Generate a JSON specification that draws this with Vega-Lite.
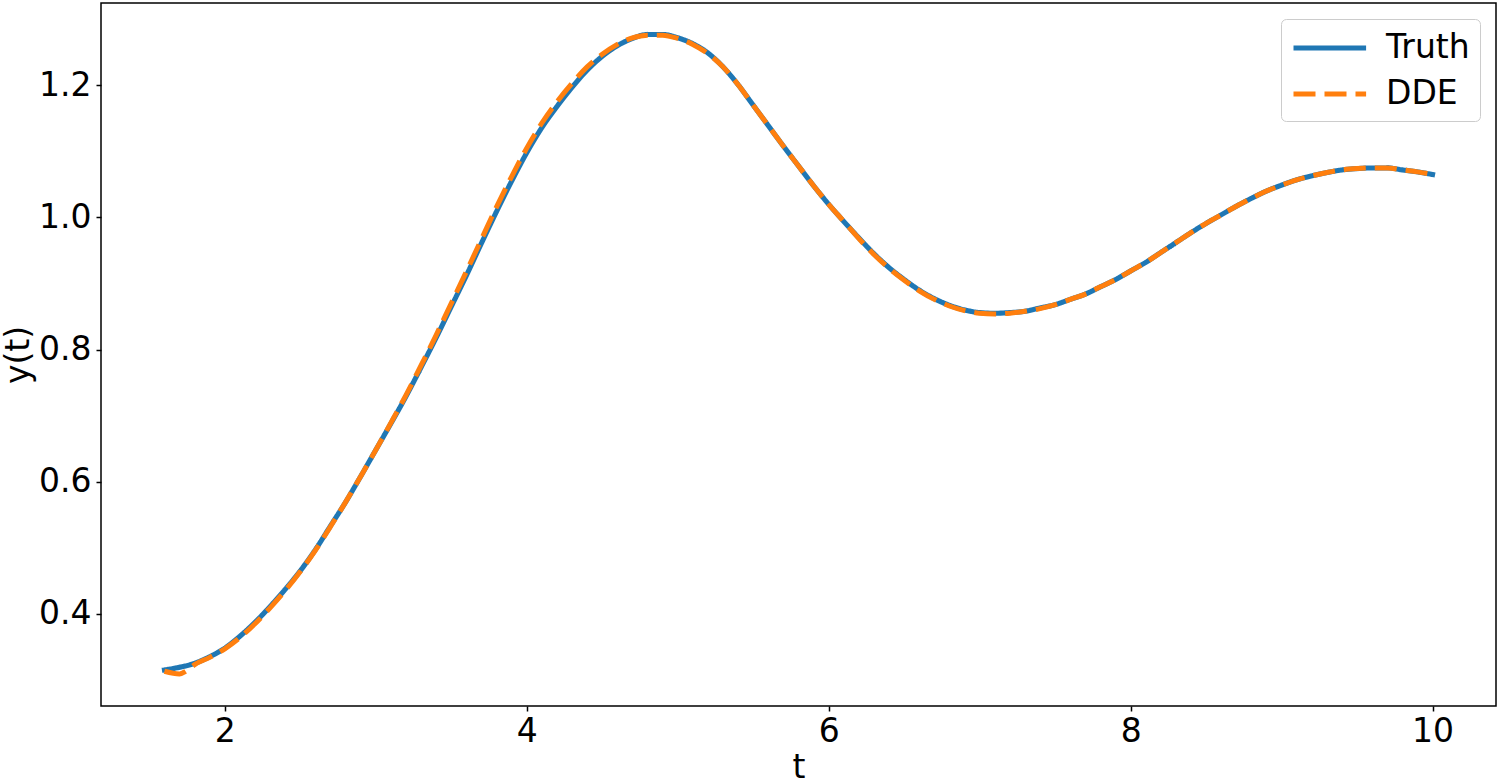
{
  "$schema": "https://vega.github.io/schema/vega-lite/v6.json",
  "width": 1395,
  "height": 703,
  "autosize": {"type": "none"},
  "padding": {"left": 101, "top": 3, "right": 4, "bottom": 74},
  "datasets": {
    "truth": [
      {"t": 1.6, "y": 0.315}, {"t": 1.7, "y": 0.319}, {"t": 1.8, "y": 0.325}, {"t": 1.9, "y": 0.335},
      {"t": 2.0, "y": 0.348}, {"t": 2.1, "y": 0.366}, {"t": 2.2, "y": 0.387}, {"t": 2.3, "y": 0.411},
      {"t": 2.4, "y": 0.437}, {"t": 2.5, "y": 0.465}, {"t": 2.6, "y": 0.497}, {"t": 2.7, "y": 0.533},
      {"t": 2.8, "y": 0.569}, {"t": 2.9, "y": 0.608}, {"t": 3.0, "y": 0.648}, {"t": 3.1, "y": 0.688},
      {"t": 3.2, "y": 0.729}, {"t": 3.3, "y": 0.773}, {"t": 3.4, "y": 0.818}, {"t": 3.5, "y": 0.865},
      {"t": 3.6, "y": 0.912}, {"t": 3.7, "y": 0.961}, {"t": 3.8, "y": 1.009}, {"t": 3.9, "y": 1.055},
      {"t": 4.0, "y": 1.098}, {"t": 4.1, "y": 1.136}, {"t": 4.2, "y": 1.168}, {"t": 4.3, "y": 1.197},
      {"t": 4.4, "y": 1.223}, {"t": 4.5, "y": 1.244}, {"t": 4.6, "y": 1.260}, {"t": 4.7, "y": 1.271},
      {"t": 4.8, "y": 1.277}, {"t": 4.9, "y": 1.277}, {"t": 5.0, "y": 1.272}, {"t": 5.1, "y": 1.263},
      {"t": 5.2, "y": 1.249}, {"t": 5.3, "y": 1.228}, {"t": 5.4, "y": 1.201}, {"t": 5.5, "y": 1.170},
      {"t": 5.6, "y": 1.139}, {"t": 5.7, "y": 1.108}, {"t": 5.8, "y": 1.078}, {"t": 5.9, "y": 1.048},
      {"t": 6.0, "y": 1.020}, {"t": 6.1, "y": 0.994}, {"t": 6.2, "y": 0.969}, {"t": 6.3, "y": 0.945},
      {"t": 6.4, "y": 0.924}, {"t": 6.5, "y": 0.906}, {"t": 6.6, "y": 0.890}, {"t": 6.7, "y": 0.877},
      {"t": 6.8, "y": 0.867}, {"t": 6.9, "y": 0.860}, {"t": 7.0, "y": 0.856}, {"t": 7.1, "y": 0.855},
      {"t": 7.2, "y": 0.856}, {"t": 7.3, "y": 0.858}, {"t": 7.4, "y": 0.863}, {"t": 7.5, "y": 0.868},
      {"t": 7.6, "y": 0.876}, {"t": 7.7, "y": 0.884}, {"t": 7.8, "y": 0.895}, {"t": 7.9, "y": 0.906},
      {"t": 8.0, "y": 0.919}, {"t": 8.1, "y": 0.932}, {"t": 8.2, "y": 0.947}, {"t": 8.3, "y": 0.962},
      {"t": 8.4, "y": 0.977}, {"t": 8.5, "y": 0.991}, {"t": 8.6, "y": 1.004}, {"t": 8.7, "y": 1.017},
      {"t": 8.8, "y": 1.029}, {"t": 8.9, "y": 1.040}, {"t": 9.0, "y": 1.049}, {"t": 9.1, "y": 1.057},
      {"t": 9.2, "y": 1.063}, {"t": 9.3, "y": 1.068}, {"t": 9.4, "y": 1.072}, {"t": 9.5, "y": 1.074},
      {"t": 9.6, "y": 1.075}, {"t": 9.7, "y": 1.075}, {"t": 9.8, "y": 1.072}, {"t": 9.9, "y": 1.069},
      {"t": 10.0, "y": 1.065}
    ],
    "dde": [
      {"t": 1.6, "y": 0.313}, {"t": 1.7, "y": 0.309}, {"t": 1.75, "y": 0.314}, {"t": 1.8, "y": 0.323},
      {"t": 1.9, "y": 0.334}, {"t": 2.0, "y": 0.347}, {"t": 2.1, "y": 0.364}, {"t": 2.2, "y": 0.385},
      {"t": 2.3, "y": 0.409}, {"t": 2.4, "y": 0.435}, {"t": 2.5, "y": 0.464}, {"t": 2.6, "y": 0.496},
      {"t": 2.7, "y": 0.532}, {"t": 2.8, "y": 0.569}, {"t": 2.9, "y": 0.608}, {"t": 3.0, "y": 0.648},
      {"t": 3.1, "y": 0.689}, {"t": 3.2, "y": 0.731}, {"t": 3.3, "y": 0.776}, {"t": 3.4, "y": 0.822},
      {"t": 3.5, "y": 0.870}, {"t": 3.6, "y": 0.918}, {"t": 3.7, "y": 0.967}, {"t": 3.8, "y": 1.016},
      {"t": 3.9, "y": 1.062}, {"t": 4.0, "y": 1.105}, {"t": 4.1, "y": 1.143}, {"t": 4.2, "y": 1.175},
      {"t": 4.3, "y": 1.203}, {"t": 4.4, "y": 1.228}, {"t": 4.5, "y": 1.247}, {"t": 4.6, "y": 1.262},
      {"t": 4.7, "y": 1.272}, {"t": 4.8, "y": 1.276}, {"t": 4.9, "y": 1.276}, {"t": 5.0, "y": 1.271},
      {"t": 5.1, "y": 1.262}, {"t": 5.2, "y": 1.248}, {"t": 5.3, "y": 1.228}, {"t": 5.4, "y": 1.201},
      {"t": 5.5, "y": 1.170}, {"t": 5.6, "y": 1.139}, {"t": 5.7, "y": 1.108}, {"t": 5.8, "y": 1.078},
      {"t": 5.9, "y": 1.048}, {"t": 6.0, "y": 1.020}, {"t": 6.1, "y": 0.994}, {"t": 6.2, "y": 0.968},
      {"t": 6.3, "y": 0.944}, {"t": 6.4, "y": 0.923}, {"t": 6.5, "y": 0.905}, {"t": 6.6, "y": 0.889},
      {"t": 6.7, "y": 0.876}, {"t": 6.8, "y": 0.866}, {"t": 6.9, "y": 0.859}, {"t": 7.0, "y": 0.855},
      {"t": 7.1, "y": 0.854}, {"t": 7.2, "y": 0.855}, {"t": 7.3, "y": 0.858}, {"t": 7.4, "y": 0.862},
      {"t": 7.5, "y": 0.868}, {"t": 7.6, "y": 0.876}, {"t": 7.7, "y": 0.884}, {"t": 7.8, "y": 0.895},
      {"t": 7.9, "y": 0.906}, {"t": 8.0, "y": 0.919}, {"t": 8.1, "y": 0.932}, {"t": 8.2, "y": 0.947},
      {"t": 8.3, "y": 0.962}, {"t": 8.4, "y": 0.977}, {"t": 8.5, "y": 0.991}, {"t": 8.6, "y": 1.004},
      {"t": 8.7, "y": 1.017}, {"t": 8.8, "y": 1.029}, {"t": 8.9, "y": 1.040}, {"t": 9.0, "y": 1.049},
      {"t": 9.1, "y": 1.057}, {"t": 9.2, "y": 1.063}, {"t": 9.3, "y": 1.068}, {"t": 9.4, "y": 1.072},
      {"t": 9.5, "y": 1.074}, {"t": 9.6, "y": 1.075}, {"t": 9.7, "y": 1.075}, {"t": 9.8, "y": 1.072},
      {"t": 9.9, "y": 1.069}, {"t": 10.0, "y": 1.065}
    ]
  },
  "encoding": {
    "x": {
      "field": "t", "type": "quantitative",
      "scale": {"domain": [1.18, 10.42], "nice": false, "zero": false},
      "axis": {"title": "t", "values": [2, 4, 6, 8, 10], "format": "d", "labelPadding": 4, "titlePadding": 3}
    },
    "y": {
      "field": "y", "type": "quantitative",
      "scale": {"domain": [0.2604, 1.3247], "nice": false, "zero": false},
      "axis": {"title": "y(t)", "values": [0.4, 0.6, 0.8, 1.0, 1.2], "format": ".1f", "labelPadding": 5, "titlePadding": 3}
    },
    "color": {
      "field": "series", "type": "nominal",
      "scale": {"domain": ["Truth", "DDE"], "range": ["#1f77b4", "#ff7f0e"]},
      "legend": {"title": null}
    },
    "strokeDash": {
      "field": "series", "type": "nominal",
      "scale": {"domain": ["Truth", "DDE"], "range": [[1, 0], [22, 9]]},
      "legend": {"title": null}
    }
  },
  "layer": [
    {
      "data": {"name": "truth"},
      "transform": [{"calculate": "'Truth'", "as": "series"}],
      "mark": {"type": "line", "strokeWidth": 5, "strokeJoin": "round", "strokeCap": "square", "interpolate": "monotone"}
    },
    {
      "data": {"name": "dde"},
      "transform": [{"calculate": "'DDE'", "as": "series"}],
      "mark": {"type": "line", "strokeWidth": 5, "strokeJoin": "round", "interpolate": "monotone"}
    }
  ],
  "config": {
    "font": "DejaVu Sans",
    "view": {"stroke": "black", "strokeWidth": 1.5},
    "axis": {
      "grid": false,
      "domain": false,
      "tickColor": "black",
      "tickWidth": 1.5,
      "tickSize": 5,
      "labelFont": "DejaVu Sans",
      "labelFontSize": 33,
      "labelColor": "black",
      "titleFont": "DejaVu Sans",
      "titleFontSize": 33,
      "titleFontWeight": "normal",
      "titleColor": "black"
    },
    "legend": {
      "orient": "none",
      "legendX": 1180,
      "legendY": 16,
      "symbolType": "M-1,0H3.4",
      "symbolSize": 1089,
      "symbolStrokeWidth": 5,
      "labelFont": "DejaVu Sans",
      "labelFontSize": 33,
      "labelColor": "black",
      "labelOffset": 57,
      "padding": 10,
      "rowPadding": 10,
      "fillColor": "white",
      "strokeColor": "#cccccc",
      "cornerRadius": 5
    }
  }
}
